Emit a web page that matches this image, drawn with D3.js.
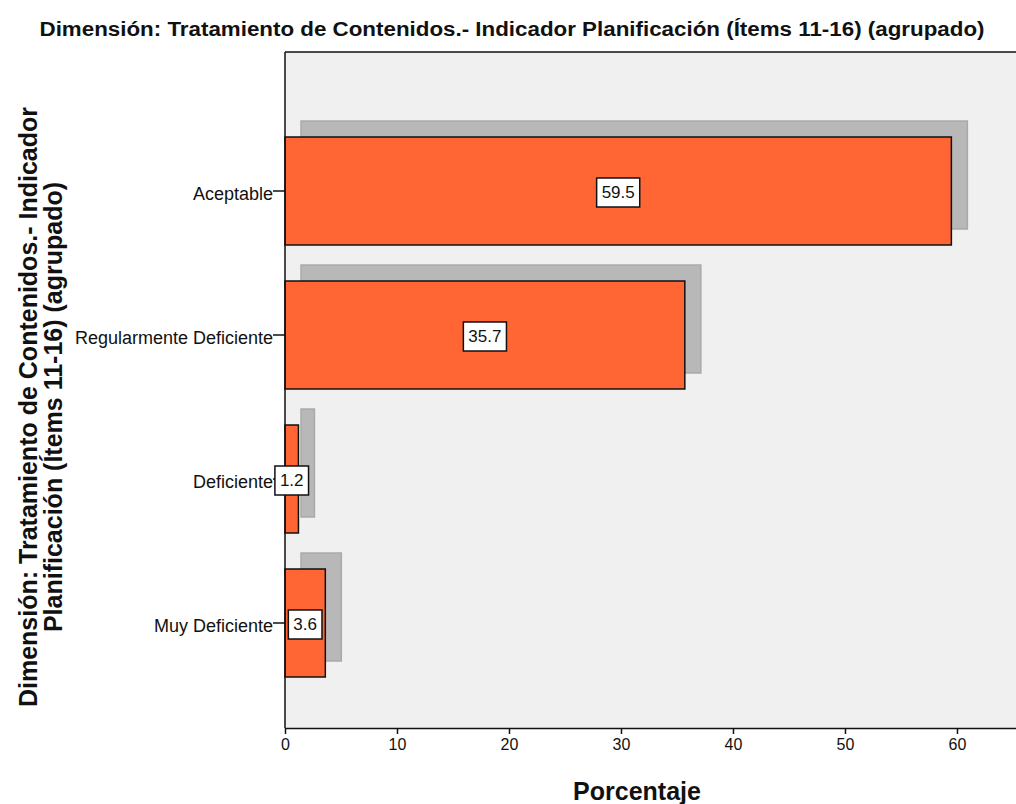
<!DOCTYPE html>
<html><head><meta charset="utf-8">
<script src="https://cdn.jsdelivr.net/npm/d3@7"></script>
<style>body{margin:0;background:#fff}svg{display:block}text{font-family:"Liberation Sans",Arial,sans-serif}</style>
</head><body>
<script>
const categories = ["Aceptable", "Regularmente Deficiente", "Deficiente", "Muy Deficiente"];
const values = [59.5, 35.7, 1.2, 3.6];
const xTicks = [0, 10, 20, 30, 40, 50, 60];
const title = "Dimensión: Tratamiento de Contenidos.- Indicador Planificación (Ítems 11-16) (agrupado)";
const yTitleLines = ["Dimensión: Tratamiento de Contenidos.- Indicador", "Planificación (Ítems 11-16) (agrupado)"];
const xTitle = "Porcentaje";

const W = 1016, H = 804;
const plot = {left: 285, top: 52, right: 1016, bottom: 728};
const svg = d3.select("body").append("svg").attr("width", W).attr("height", H);

const x = d3.scaleLinear().domain([0, 65.27]).range([plot.left, plot.right]);
const y = d3.scaleBand().domain(categories).range([119, 695]).paddingInner(0.25).paddingOuter(0.125);
const depth = 16;

svg.append("rect").attr("x", plot.left).attr("y", plot.top)
  .attr("width", plot.right - plot.left).attr("height", plot.bottom - plot.top).attr("fill", "#f0f0f0");

// shadows
svg.append("g").selectAll("rect").data(values).join("rect")
  .attr("x", x(0) + depth).attr("y", (d, i) => y(categories[i]) - depth)
  .attr("width", d => x(d) - x(0)).attr("height", y.bandwidth())
  .attr("fill", "#b8b8b8").attr("stroke", "#a9a9a9").attr("stroke-width", 1.5);

// bars
svg.append("g").selectAll("rect").data(values).join("rect")
  .attr("x", x(0)).attr("y", (d, i) => y(categories[i]))
  .attr("width", d => x(d) - x(0)).attr("height", y.bandwidth())
  .attr("fill", "#ff6633").attr("stroke", "#111").attr("stroke-width", 1.5);

// frame
svg.append("line").attr("x1", plot.left).attr("x2", plot.right).attr("y1", plot.top).attr("y2", plot.top).attr("stroke", "#111").attr("stroke-width", 1.5);
svg.append("line").attr("x1", plot.left).attr("x2", plot.left).attr("y1", plot.top).attr("y2", plot.bottom).attr("stroke", "#111").attr("stroke-width", 1.5);

// x axis
const xAxis = d3.axisBottom(x).tickValues(xTicks).tickSize(6).tickSizeOuter(0).tickPadding(5);
const gx = svg.append("g").attr("transform", `translate(0,${plot.bottom})`).call(xAxis);
gx.select(".domain").attr("stroke", "#111").attr("stroke-width", 1.5);
gx.selectAll(".tick line").attr("stroke", "#111").attr("stroke-width", 1.5);
gx.selectAll(".tick text").attr("font-size", 16).attr("fill", "#111").attr("font-family", "Liberation Sans, Arial, sans-serif");

// y axis
const yAxis = d3.axisLeft(y).tickSize(12).tickSizeOuter(0).tickPadding(0);
const gy = svg.append("g").attr("transform", `translate(${plot.left},0)`).call(yAxis);
gy.select(".domain").remove();
gy.selectAll(".tick line").attr("stroke", "#111").attr("stroke-width", 1.5);
gy.selectAll(".tick text").attr("font-size", 18).attr("dy", "0.5em").attr("fill", "#111").attr("font-family", "Liberation Sans, Arial, sans-serif");

// value labels
const lg = svg.append("g");
values.forEach((v, i) => {
  const cx = (x(0) + x(v)) / 2, cy = y(categories[i]) + y.bandwidth() / 2 + 1.5;
  const g = lg.append("g");
  const t = g.append("text").attr("x", cx).attr("y", cy).attr("text-anchor", "middle")
    .attr("dominant-baseline", "central").attr("font-size", 17).attr("fill", "#111").text(v.toFixed(1));
  const w = t.node().getComputedTextLength() + 10;
  g.insert("rect", "text").attr("x", cx - w / 2).attr("y", cy - 14.5).attr("width", w).attr("height", 29)
    .attr("fill", "#fff").attr("stroke", "#111").attr("stroke-width", 1.5);
});

// titles
svg.append("text").attr("x", 512).attr("y", 36).attr("text-anchor", "middle")
  .attr("font-size", 20).attr("font-weight", "bold").attr("fill", "#111")
  .attr("textLength", 945).attr("lengthAdjust", "spacingAndGlyphs").text(title);

svg.append("text").attr("x", 637).attr("y", 800).attr("text-anchor", "middle")
  .attr("font-size", 25).attr("font-weight", "bold").attr("fill", "#111").text(xTitle);

const yt = svg.append("g").attr("transform", "translate(0,407) rotate(-90)");
yTitleLines.forEach((s, i) => {
  yt.append("text").attr("x", 0).attr("y", 37 + i * 25).attr("text-anchor", "middle")
    .attr("font-size", 25).attr("font-weight", "bold").attr("fill", "#111").text(s);
});
</script>
</body></html>
